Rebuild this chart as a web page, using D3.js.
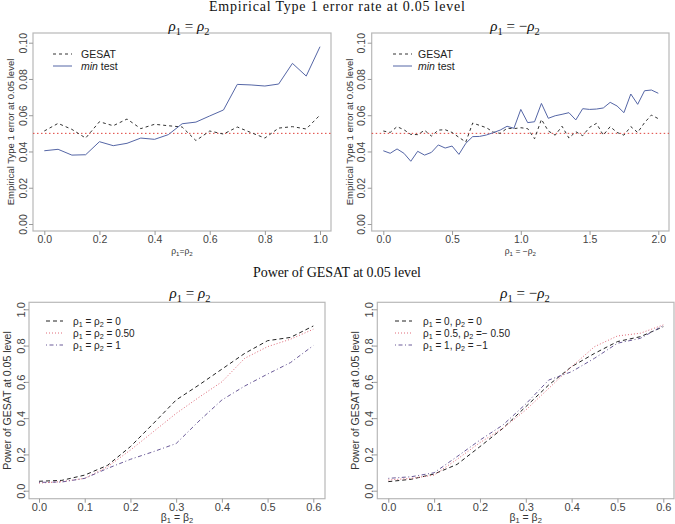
<!DOCTYPE html>
<html><head><meta charset="utf-8">
<script src="https://cdn.jsdelivr.net/npm/d3@7"></script>
<style>
body{margin:0;background:#fff}
svg{display:block}
</style></head>
<body>
<svg id="c" width="675" height="524"></svg>
<script>
// ---------- DATA ----------
const rhoEqX = d3.range(0, 21).map(i => +(i * 0.05).toFixed(2));
const rhoEqGESAT = [0.0513,0.0555,0.0522,0.0474,0.0564,0.0542,0.0579,0.0526,0.0550,0.0542,0.0535,0.0460,0.0513,0.0496,0.0535,0.0504,0.0474,0.0529,0.0537,0.0524,0.0601];
const rhoEqMin = [0.0404,0.0412,0.0380,0.0382,0.0454,0.0432,0.0445,0.0474,0.0467,0.0493,0.0553,0.0562,0.0596,0.0629,0.0770,0.0767,0.0761,0.0772,0.0886,0.0816,0.0978];

const rhoNegX = d3.range(0, 41).map(i => +(i * 0.05).toFixed(2));
const rhoNegGESAT = [0.0513,0.0505,0.0537,0.0520,0.0494,0.0493,0.0517,0.0485,0.0518,0.0520,0.0505,0.0478,0.0452,0.0557,0.0544,0.0531,0.0507,0.0500,0.0528,0.0526,0.0531,0.0526,0.0470,0.0577,0.0513,0.0490,0.0539,0.0474,0.0509,0.0487,0.0533,0.0555,0.0490,0.0537,0.0505,0.0490,0.0537,0.0505,0.0559,0.0601,0.0581];
const rhoNegMin = [0.0404,0.0390,0.0414,0.0390,0.0346,0.0401,0.0380,0.0395,0.0436,0.0419,0.0430,0.0384,0.0445,0.0482,0.0483,0.0491,0.0504,0.0518,0.0539,0.0528,0.0632,0.0559,0.0564,0.0665,0.0583,0.0597,0.0605,0.0614,0.0574,0.0636,0.0632,0.0634,0.0640,0.0671,0.0651,0.0614,0.0717,0.0660,0.0735,0.0739,0.0721];

const betaX = [0,0.05,0.10,0.15,0.20,0.25,0.30,0.35,0.40,0.45,0.50,0.55,0.60];
const powEq0   = [0.052,0.057,0.086,0.140,0.243,0.370,0.500,0.583,0.670,0.757,0.827,0.845,0.908];
const powEq05  = [0.042,0.050,0.068,0.132,0.224,0.325,0.426,0.515,0.600,0.730,0.794,0.835,0.890];
const powEq1   = [0.046,0.048,0.068,0.123,0.173,0.215,0.260,0.384,0.500,0.577,0.643,0.706,0.800];
const powNeg0  = [0.050,0.063,0.092,0.145,0.243,0.344,0.463,0.583,0.684,0.757,0.822,0.849,0.904];
const powNeg05 = [0.059,0.068,0.086,0.173,0.265,0.344,0.445,0.564,0.684,0.794,0.853,0.868,0.914];
const powNeg1  = [0.068,0.077,0.099,0.188,0.279,0.362,0.478,0.610,0.656,0.730,0.813,0.840,0.910];

const typeITicksY = [0,0.02,0.04,0.06,0.08,0.10];
const typeITicksXL = [0,0.2,0.4,0.6,0.8,1.0];
const typeITicksXR = [0,0.5,1.0,1.5,2.0];
const powTicksY = [0,0.2,0.4,0.6,0.8,1.0];
const powTicksX = [0,0.1,0.2,0.3,0.4,0.5,0.6];

// ---------- DRAW ----------
const svg = d3.select("#c");
const SANS = "'Liberation Sans', Arial, sans-serif";
const SERIF = "'Liberation Serif', 'DejaVu Serif', serif";
const boxCol = "#b8b8b8", tickCol = "#9a9a9a", labCol = "#444";

function mathRho(g, x, y, parts, size) {
  const t = g.append("text").attr("x", x).attr("y", y).attr("text-anchor", "middle")
    .attr("font-family", SERIF).attr("font-size", size).attr("fill", "#111");
  parts.forEach(p => {
    const ts = t.append("tspan").text(p[0]);
    if (p[1] === 'i') ts.attr("font-style", "italic");
    if (p[1] === 's') ts.attr("font-size", size * 0.7).attr("dy", size * 0.25);
    if (p[1] === 'u') ts.attr("dy", -size * 0.25);
  });
  return t;
}

function subText(sel, parts, size) {
  parts.forEach(p => {
    const ts = sel.append("tspan").text(p[0]);
    if (p[1] === 'i') ts.attr("font-style", "italic");
    if (p[1] === 's') ts.attr("font-size", size * 0.72).attr("dy", size * 0.2);
    if (p[1] === 'u') ts.attr("dy", -size * 0.2);
  });
}

function panel(cfg) {
  const g = svg.append("g");
  const x = d3.scaleLinear().domain(cfg.xd).range(cfg.xr);
  const y = d3.scaleLinear().domain(cfg.yd).range(cfg.yr);
  g.append("rect").attr("x", cfg.box[0]).attr("y", cfg.box[1])
    .attr("width", cfg.box[2] - cfg.box[0]).attr("height", cfg.box[3] - cfg.box[1])
    .attr("fill", "none").attr("stroke", boxCol).attr("stroke-width", 1.2);
  const xa = g.append("g").attr("transform", `translate(0,${cfg.box[3]})`)
    .call(d3.axisBottom(x).tickValues(cfg.xt).tickSize(4).tickPadding(1).tickFormat(d3.format(cfg.xf)));
  xa.select(".domain").remove();
  xa.selectAll(".tick line").attr("stroke", tickCol);
  xa.selectAll("text").attr("font-family", SANS).attr("font-size", cfg.tfs).attr("fill", labCol);
  const ya = g.append("g").attr("transform", `translate(${cfg.box[0]},0)`)
    .call(d3.axisLeft(y).tickValues(cfg.yt).tickSize(4).tickFormat(d3.format(cfg.yf)));
  ya.select(".domain").remove();
  ya.selectAll(".tick line").attr("stroke", tickCol);
  ya.selectAll("text").attr("font-family", SANS).attr("font-size", cfg.tfs).attr("fill", labCol)
    .attr("transform", "rotate(-90)").attr("x", 0).attr("y", -cfg.ytOff).attr("dy", "0.35em")
    .attr("text-anchor", "middle");
  if (cfg.ref !== undefined) {
    g.append("line").attr("x1", cfg.box[0]).attr("x2", cfg.box[2])
      .attr("y1", y(cfg.ref)).attr("y2", y(cfg.ref))
      .attr("stroke", "#e0403a").attr("stroke-width", 1).attr("stroke-dasharray", "1.5,2.5");
  }
  const line = d3.line().x(d => x(d[0])).y(d => y(d[1]));
  cfg.series.forEach(s => {
    g.append("path").datum(cfg.xs.map((v, i) => [v, s.v[i]])).attr("d", line)
      .attr("fill", "none").attr("stroke", s.c).attr("stroke-width", s.w || 1)
      .attr("stroke-dasharray", s.da || null);
  });
  cfg.series.forEach((s, i) => {
    const ly = cfg.leg.y + i * cfg.leg.dy;
    g.append("line").attr("x1", cfg.leg.x1).attr("x2", cfg.leg.x2).attr("y1", ly).attr("y2", ly)
      .attr("stroke", s.c).attr("stroke-width", s.w || 1).attr("stroke-dasharray", s.da || null);
    const t = g.append("text").attr("x", cfg.leg.tx).attr("y", ly).attr("dy", "0.35em")
      .attr("font-family", SANS).attr("font-size", cfg.leg.fs).attr("fill", "#222");
    subText(t, s.lab, cfg.leg.fs);
  });
  g.append("text").attr("transform", `translate(${cfg.ylx},${(cfg.box[1] + cfg.box[3]) / 2}) rotate(-90)`)
    .attr("text-anchor", "middle").attr("dy", "0.35em").attr("font-family", SANS)
    .attr("font-size", cfg.ylfs).attr("fill", "#333").text(cfg.ylab);
  const xl = g.append("text").attr("x", (cfg.box[0] + cfg.box[2]) / 2).attr("y", cfg.xly)
    .attr("text-anchor", "middle").attr("font-family", SANS).attr("font-size", cfg.xlfs).attr("fill", "#333");
  subText(xl, cfg.xlab, cfg.xlfs);
  mathRho(g, cfg.subx, cfg.suby, cfg.sub, 15);
  return g;
}

const blue = "#5566a6", dark = "#333";

panel({
  xd: [0, 1], xr: [44.3, 320], yd: [0, 0.10], yr: [224, 42.7], box: [33, 33, 331, 231],
  xt: typeITicksXL, yt: typeITicksY, xf: ".1f", yf: ".2f", tfs: 10.5, ytOff: 10,
  xs: rhoEqX, ref: 0.05,
  series: [
    { v: rhoEqGESAT, c: dark, da: "3,3", lab: [["GESAT", "n"]] },
    { v: rhoEqMin, c: blue, lab: [["min", "i"], [" test", "n"]] }
  ],
  leg: { x1: 53, x2: 72, tx: 81, y: 54, dy: 12, fs: 10.5 },
  ylx: 11, ylab: "Empirical Type 1 error at 0.05 level", ylfs: 9.5,
  xly: 254, xlab: [["ρ", "n"], ["1", "s"], ["=ρ", "u"], ["2", "s"]], xlfs: 8.5,
  subx: 189, suby: 31, sub: [["ρ", "i"], ["1", "s"], [" = ", "u"], ["ρ", "i"], ["2", "s"]]
});

panel({
  xd: [0, 2], xr: [383.3, 658.3], yd: [0, 0.10], yr: [224, 42.7], box: [371.7, 33, 669, 231],
  xt: typeITicksXR, yt: typeITicksY, xf: ".1f", yf: ".2f", tfs: 10.5, ytOff: 10,
  xs: rhoNegX, ref: 0.05,
  series: [
    { v: rhoNegGESAT, c: dark, da: "3,3", lab: [["GESAT", "n"]] },
    { v: rhoNegMin, c: blue, lab: [["min", "i"], [" test", "n"]] }
  ],
  leg: { x1: 393, x2: 412, tx: 418, y: 54, dy: 12, fs: 10.5 },
  ylx: 350, ylab: "Empirical Type 1 error at 0.05 level", ylfs: 9.5,
  xly: 254, xlab: [["ρ", "n"], ["1", "s"], [" = −ρ", "u"], ["2", "s"]], xlfs: 8.5,
  subx: 515, suby: 31, sub: [["ρ", "i"], ["1", "s"], [" = −", "u"], ["ρ", "i"], ["2", "s"]]
});

const pBlack = "#222", pRed = "#e06a78", pPurple = "#6a5a98";

panel({
  xd: [0, 0.6], xr: [39, 313.3], yd: [0, 1], yr: [490.7, 309.3], box: [29, 302.3, 325, 498.7],
  xt: powTicksX, yt: powTicksY, xf: ".1f", yf: ".1f", tfs: 11, ytOff: 8,
  xs: betaX,
  series: [
    { v: powEq0, c: pBlack, da: "4,3", lab: [["ρ", "n"], ["1", "s"], [" = ρ", "u"], ["2", "s"], [" = 0", "u"]] },
    { v: powEq05, c: pRed, da: "1,2", lab: [["ρ", "n"], ["1", "s"], [" = ρ", "u"], ["2", "s"], [" = 0.50", "u"]] },
    { v: powEq1, c: pPurple, da: "1,2.5,4,2.5", lab: [["ρ", "n"], ["1", "s"], [" = ρ", "u"], ["2", "s"], [" = 1", "u"]] }
  ],
  leg: { x1: 46, x2: 63, tx: 73, y: 321, dy: 12, fs: 10 },
  ylx: 7, ylab: "Power of GESAT at 0.05 level", ylfs: 10.5,
  xly: 520.5, xlab: [["β", "n"], ["1", "s"], [" = β", "u"], ["2", "s"]], xlfs: 10.5,
  subx: 190, suby: 298, sub: [["ρ", "i"], ["1", "s"], [" = ", "u"], ["ρ", "i"], ["2", "s"]]
});

panel({
  xd: [0, 0.6], xr: [388.3, 663.3], yd: [0, 1], yr: [490.7, 309.3], box: [377.3, 302.3, 674, 498.7],
  xt: powTicksX, yt: powTicksY, xf: ".1f", yf: ".1f", tfs: 11, ytOff: 8,
  xs: betaX,
  series: [
    { v: powNeg0, c: pBlack, da: "4,3", lab: [["ρ", "n"], ["1", "s"], [" = 0, ρ", "u"], ["2", "s"], [" = 0", "u"]] },
    { v: powNeg05, c: pRed, da: "1,2", lab: [["ρ", "n"], ["1", "s"], [" = 0.5, ρ", "u"], ["2", "s"], [" =− 0.50", "u"]] },
    { v: powNeg1, c: pPurple, da: "1,2.5,4,2.5", lab: [["ρ", "n"], ["1", "s"], [" = 1, ρ", "u"], ["2", "s"], [" = −1", "u"]] }
  ],
  leg: { x1: 395, x2: 412, tx: 423, y: 321, dy: 12, fs: 10 },
  ylx: 355, ylab: "Power of GESAT at 0.05 level", ylfs: 10.5,
  xly: 520.5, xlab: [["β", "n"], ["1", "s"], [" = β", "u"], ["2", "s"]], xlfs: 10.5,
  subx: 525, suby: 298, sub: [["ρ", "i"], ["1", "s"], [" = −", "u"], ["ρ", "i"], ["2", "s"]]
});

svg.append("text").attr("x", 337).attr("y", 11).attr("text-anchor", "middle")
  .attr("font-family", SERIF).attr("font-size", 14).attr("fill", "#111")
  .attr("textLength", 256).attr("lengthAdjust", "spacing")
  .text("Empirical Type 1 error rate at 0.05 level");
svg.append("text").attr("x", 337).attr("y", 277).attr("text-anchor", "middle")
  .attr("font-family", SERIF).attr("font-size", 14).attr("fill", "#111")
  .attr("textLength", 168).attr("lengthAdjust", "spacing")
  .text("Power of GESAT at 0.05 level");
</script>
</body></html>
